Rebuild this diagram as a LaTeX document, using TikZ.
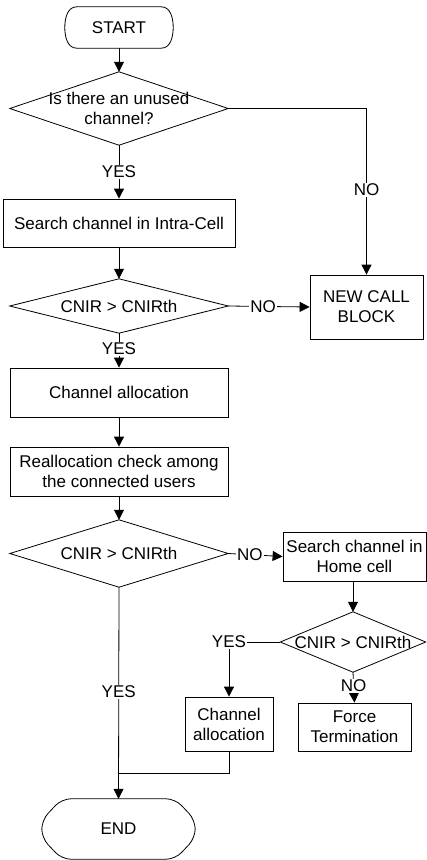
\documentclass[tikz,border=0pt]{standalone}
\usepackage{fontspec}
\setmainfont{Liberation Sans}
\usetikzlibrary{arrows.meta}
\begin{document}
\begin{tikzpicture}[x=1pt,y=-1pt,
  every node/.style={font=\fontsize{17}{20}\selectfont, align=center},
  box/.style={draw, line width=0.8pt, inner sep=1pt},
  dia/.style={draw=none, inner sep=0pt},
  term/.style={draw=none, inner sep=0pt},
  dshape/.style={draw, line width=0.8pt},
  tshape/.style={draw, line width=0.8pt},
  arr/.style={draw, line width=0.8pt, -{Triangle[length=10pt,width=10pt]}},
  ln/.style={draw, line width=0.8pt},
  lbl/.style={fill=white, inner sep=1pt}
]
\useasboundingbox (0,0) rectangle (427,860);

% terminals
\node[term, minimum width=108pt, minimum height=41pt] (start) at (119,27.5) {START};
\draw[tshape] ([xshift=12pt]start.north west) -- ([xshift=-12pt]start.north east)
  .. controls ([xshift=-2pt]start.north east) and ([yshift=8pt]start.east) .. (start.east)
  .. controls ([yshift=-8pt]start.east) and ([xshift=-2pt]start.south east) .. ([xshift=-12pt]start.south east)
  -- ([xshift=12pt]start.south west)
  .. controls ([xshift=2pt]start.south west) and ([yshift=-8pt]start.west) .. (start.west)
  .. controls ([yshift=8pt]start.west) and ([xshift=2pt]start.north west) .. ([xshift=12pt]start.north west) -- cycle;
\node[term, minimum width=153pt, minimum height=60pt] (end) at (118.5,829) {END};
\draw[tshape, rounded corners=9pt] ([xshift=20pt]end.north west) -- ([xshift=-20pt]end.north east)
  -- ([yshift=9pt]end.east) -- ([yshift=-9pt]end.east)
  -- ([xshift=-20pt]end.south east) -- ([xshift=20pt]end.south west)
  -- ([yshift=-9pt]end.west) -- ([yshift=9pt]end.west) -- cycle;

% decisions
\node[dia, minimum width=218pt, minimum height=73pt] (d1) at (119,108.5) {Is there an unused\\channel?};
\draw[dshape] (d1.north) -- (d1.east) -- (d1.south) -- (d1.west) -- cycle;
\node[dia, minimum width=218pt, minimum height=54pt] (d2) at (119,306) {CNIR > CNIRth};
\draw[dshape] (d2.north) -- (d2.east) -- (d2.south) -- (d2.west) -- cycle;
\node[dia, minimum width=218pt, minimum height=67pt] (d3) at (119,553.5) {CNIR > CNIRth};
\draw[dshape] (d3.north) -- (d3.east) -- (d3.south) -- (d3.west) -- cycle;
\node[dia, minimum width=145pt, minimum height=60pt] (d4) at (353,642) {CNIR > CNIRth};
\draw[dshape] (d4.north) -- (d4.east) -- (d4.south) -- (d4.west) -- cycle;

% processes
\node[box, minimum width=232pt, minimum height=48pt] (s1) at (119,223) {Search channel in Intra-Cell};
\node[box, minimum width=113pt, minimum height=64pt] (ncb) at (366.5,307) {NEW CALL\\BLOCK};
\node[box, minimum width=218pt, minimum height=49pt] (a1) at (119,392.5) {Channel allocation};
\node[box, minimum width=218pt, minimum height=49pt] (ra) at (119,471.5) {Reallocation check among\\the connected users};
\node[box, minimum width=143pt, minimum height=49pt] (hc) at (354.5,556.5) {Search channel in\\Home cell};
\node[box, minimum width=88pt, minimum height=54pt] (a2) at (229,724) {Channel\\allocation};
\node[box, minimum width=113pt, minimum height=48pt] (ft) at (354.5,727) {Force\\Termination};
\coordinate (j) at (119,773);

% connectors
\draw[arr] (start) -- (d1.north);
\draw[arr] (d1.south) -- node[lbl, pos=0.5] {YES} (s1.north);
\draw[arr] (d1.east) -| node[lbl, pos=0.745] {NO} (ncb.north);
\draw[arr] (s1.south) -- (d2.north);
\draw[arr] (d2.east) -- node[lbl, pos=0.43] {NO} (ncb.west);
\draw[arr] (d2.south) -- node[lbl, pos=0.45] {YES} (a1.north);
\draw[arr] (a1.south) -- (ra.north);
\draw[arr] (ra.south) -- (d3.north);
\draw[arr] (d3.east) -- node[lbl, pos=0.4] {NO} (hc.west);
\draw[arr] (d3.south) -- node[lbl, pos=0.495] {YES} (end.north);
\draw[arr] (hc.south -| d4.north) -- (d4.north);
\draw[arr] (d4.west) -| node[lbl, pos=0.5] {YES} (a2.north);
\draw[arr] (d4.south) -- node[lbl, pos=0.45] {NO} (ft.north);
\draw[ln] (a2.south) |- (j);
\end{tikzpicture}
\end{document}
